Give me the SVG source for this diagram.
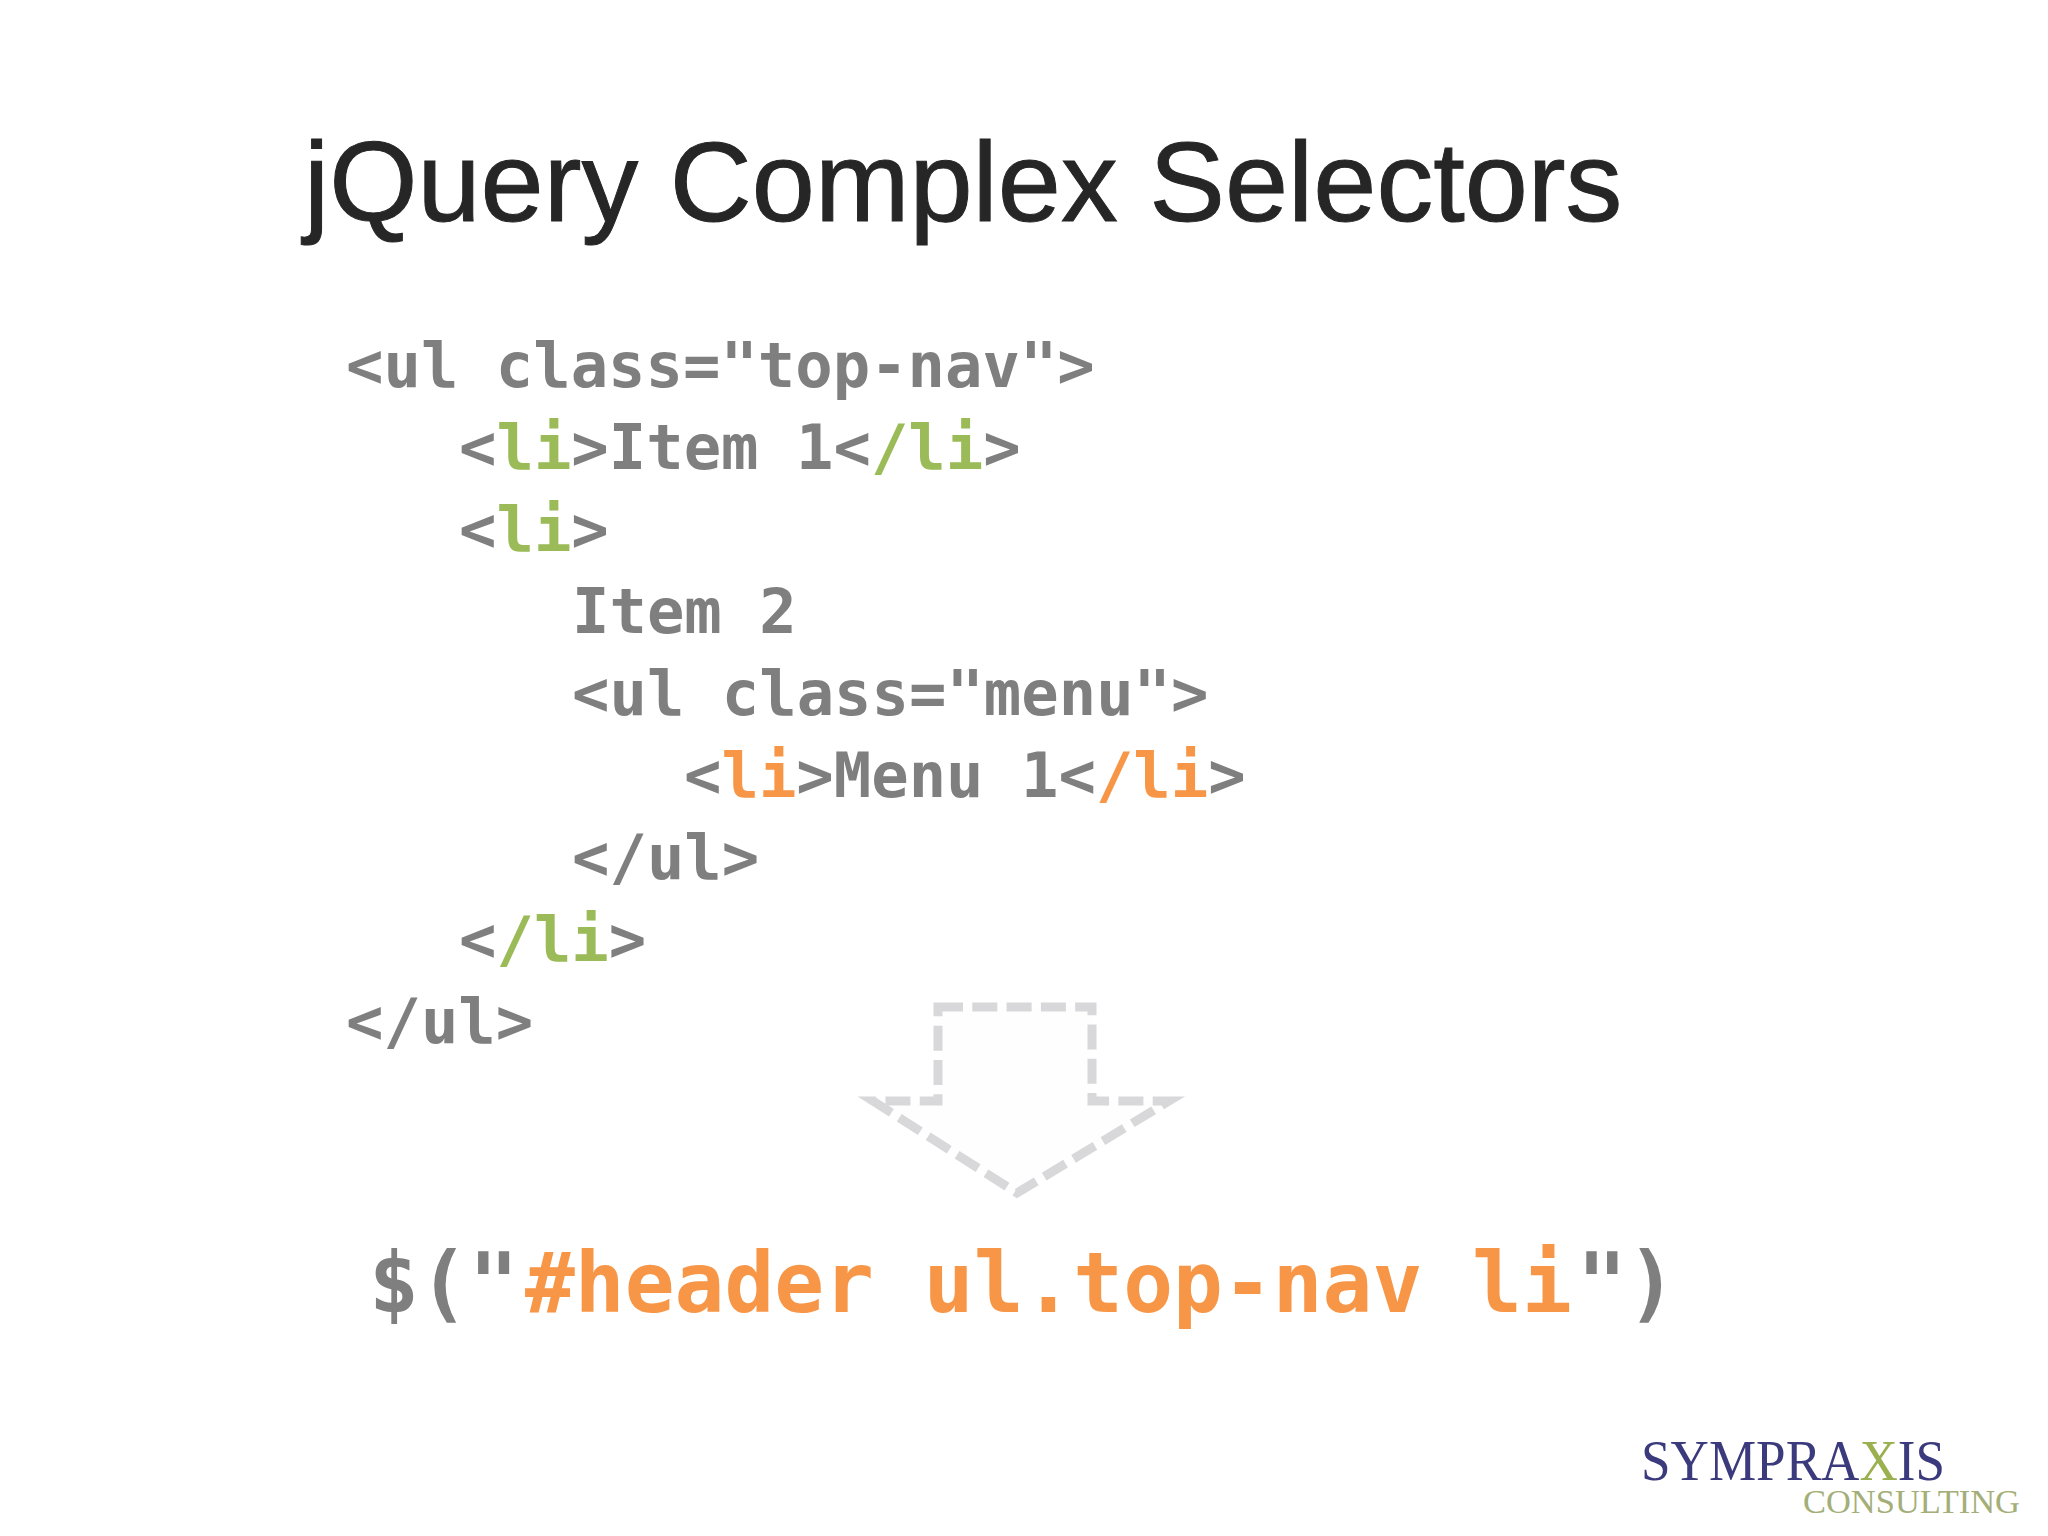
<svg xmlns="http://www.w3.org/2000/svg" width="2048" height="1536" viewBox="0 0 2048 1536">
<style>
.c{font-family:"DejaVu Sans Mono",monospace;font-weight:700;font-size:62.2px;fill:#7f7f7f;white-space:pre}
.b{font-family:"DejaVu Sans Mono",monospace;font-weight:700;font-size:82.8px;fill:#7f7f7f;white-space:pre}
.g{fill:#9bbb59}.o{fill:#f79646}
.t{font-family:"Liberation Sans",Arial,sans-serif;font-size:113.5px;fill:#262626;stroke:#262626;stroke-width:1}
</style>
<rect width="2048" height="1536" fill="#ffffff"/>
<text id="title" class="t" x="304" y="221">jQuery Complex Selectors</text>
<g id="code">
<text class="c" x="346" y="387">&lt;ul class="top-nav"&gt;</text>
<text class="c" x="459" y="469">&lt;<tspan class="g">li</tspan>&gt;Item 1&lt;<tspan class="g">/li</tspan>&gt;</text>
<text class="c" x="459" y="551">&lt;<tspan class="g">li</tspan>&gt;</text>
<text class="c" x="572" y="633">Item 2</text>
<text class="c" x="572" y="715">&lt;ul class="menu"&gt;</text>
<text class="c" x="684" y="797">&lt;<tspan class="o">li</tspan>&gt;Menu 1&lt;<tspan class="o">/li</tspan>&gt;</text>
<text class="c" x="572" y="879">&lt;/ul&gt;</text>
<text class="c" x="459" y="961">&lt;<tspan class="g">/li</tspan>&gt;</text>
<text class="c" x="346" y="1043">&lt;/ul&gt;</text>
</g>
<g id="arrow">
<path d="M938 1007H1092V1101H1169L1017 1193L873 1101H938Z" fill="#fefefe" fill-opacity="0.6" stroke="#d8d7d9" stroke-width="9" stroke-miterlimit="10" stroke-dasharray="25 9.3"/>
</g>
<text id="selector" class="b" x="369" y="1312">$("<tspan class="o" x="525">#header ul.top-nav li</tspan><tspan x="1577">")</tspan></text>
<g id="logo">
<text x="1641" y="1480" font-family="'Liberation Serif',serif" font-size="56" fill="#3b3a7c" textLength="304" lengthAdjust="spacingAndGlyphs">SYMPRA<tspan fill="#9bb04f">X</tspan>IS</text>
<text x="1803" y="1513" font-family="'Liberation Serif',serif" font-size="33" fill="#a3ae78" textLength="217" lengthAdjust="spacingAndGlyphs">CONSULTING</text>
</g>
</svg>
